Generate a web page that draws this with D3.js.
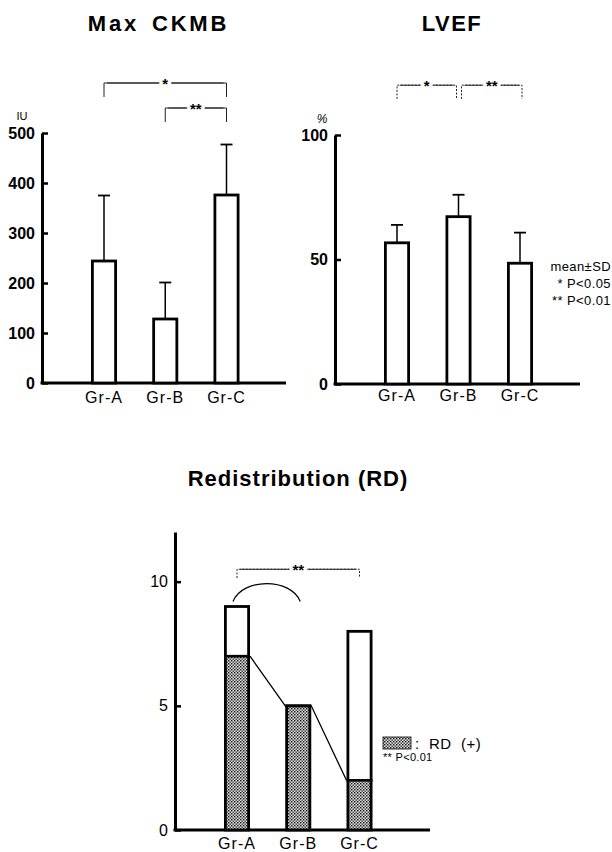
<!DOCTYPE html>
<html><head><meta charset="utf-8">
<script src="https://cdn.jsdelivr.net/npm/d3@7"></script>
<style>body{margin:0;background:#fff}svg{display:block}</style>
</head><body><svg id="c" width="612" height="852"></svg>
<script>
// ---- data ----
const categories = ["Gr-A", "Gr-B", "Gr-C"];
const ckmbMean = [244, 128, 376];
const ckmbSD = [131, 73, 101];
const ckmbTicks = [0, 100, 200, 300, 400, 500];
const lvefMean = [56.7, 67.2, 48.5];
const lvefSD = [7.2, 8.8, 12.3];
const lvefTicks = [0, 50, 100];
const rdTotal = [9, 5, 8];
const rdPositive = [7, 5, 2];
const rdTicks = [0, 5, 10];
const ckmbBrackets = [
  {from: 0, to: 2, label: "*", level: 600, drop: 572},
  {from: 1, to: 2, label: "**", level: 550, drop: 522}
];
const lvefBrackets = [
  {from: 0, to: 1, label: "*", level: 120, drop: 114.5},
  {from: 1, to: 2, label: "**", level: 120, drop: 114.5}
];
const rdBrackets = [{from: 0, to: 2, label: "**", level: 10.5, drop: 10.15}];
const legendLVEF = ["mean\u00B1SD", "* P<0.05", "** P<0.01"];

// ---- drawing ----
const FONT = "'Liberation Sans', Arial, Helvetica, sans-serif";
const svg = d3.select("#c").style("font-family", FONT);
const defs = svg.append("defs");
const pat = defs.append("pattern").attr("id", "dots").attr("patternUnits", "userSpaceOnUse")
  .attr("width", 3).attr("height", 3);
pat.append("rect").attr("width", 3).attr("height", 3).attr("fill", "#dcdcdc");
pat.append("rect").attr("x", 0).attr("y", 0).attr("width", 1.4).attr("height", 1.4).attr("fill", "#111");
pat.append("rect").attr("x", 1.5).attr("y", 1.5).attr("width", 1.4).attr("height", 1.4).attr("fill", "#333");

function panel(o) {
  const g = svg.append("g");
  const y = d3.scaleLinear().domain(o.domain).range([o.y0, o.yTop]);
  const x = d3.scalePoint().domain(categories).range([o.x0 + o.c0, o.x0 + o.c1]);
  const ax = d3.axisLeft(y).tickValues(o.ticks).tickSize(-o.tick).tickSizeOuter(0).tickPadding(o.pad);
  const ag = g.append("g").attr("transform", `translate(${o.x0},0)`).call(ax);
  ag.select(".domain").attr("stroke", "#000").attr("stroke-width", 3);
  ag.selectAll(".tick line").attr("stroke", "#000").attr("stroke-width", 2.5);
  ag.selectAll(".tick text").attr("fill", "#000").attr("font-size", o.tickFont)
    .attr("font-weight", o.tickBold ? "bold" : "normal").attr("font-family", FONT);
  g.append("line").attr("x1", o.x0 - 1.5).attr("x2", o.x1).attr("y1", o.y0).attr("y2", o.y0)
    .attr("stroke", "#000").attr("stroke-width", 3);
  g.selectAll(".cat").data(categories).join("text")
    .attr("x", d => x(d)).attr("y", o.y0 + o.labDy).attr("text-anchor", "middle")
    .attr("font-size", 16).attr("letter-spacing", 1).text(d => d);
  return {g, x, y};
}

function bracket(g, x, y, b, dashed, insetA, insetB) {
  const xa = x(categories[b.from]) + (insetA || 0), xb = x(categories[b.to]) + (insetB || 0);
  const ly = y(b.level), dy = y(b.drop);
  g.append("path").attr("d", `M${xa},${dy}V${ly}H${xb}V${dy}`).attr("fill", "none")
    .attr("stroke", "#222").attr("stroke-width", 1).attr("stroke-dasharray", dashed ? "2,1.5" : null);
  g.append("line").attr("x1", xa + 3).attr("x2", xb - 3).attr("y1", ly).attr("y2", ly)
    .attr("stroke", "#222").attr("stroke-width", 1);
  g.append("text").attr("x", (xa + xb) / 2).attr("y", ly + 6).attr("text-anchor", "middle")
    .attr("font-size", 15).attr("font-weight", "bold")
    .attr("stroke", "#fff").attr("stroke-width", 5).attr("paint-order", "stroke")
    .text(b.label);
}

function meanBars(p, means, sds) {
  const bw = 26;
  means.forEach((m, i) => {
    const cx = p.x(categories[i]);
    p.g.append("line").attr("x1", cx).attr("x2", cx).attr("y1", p.y(m)).attr("y2", p.y(m + sds[i]))
      .attr("stroke", "#000").attr("stroke-width", 1.5);
    p.g.append("line").attr("x1", cx - 6).attr("x2", cx + 6).attr("y1", p.y(m + sds[i])).attr("y2", p.y(m + sds[i]))
      .attr("stroke", "#000").attr("stroke-width", 1.8);
    p.g.append("rect").attr("x", cx - bw / 2 + 1.4).attr("y", p.y(m)).attr("width", bw - 2.8)
      .attr("height", p.y(0) - p.y(m)).attr("fill", "#fff").attr("stroke", "#000").attr("stroke-width", 2.8);
  });
}

// Panel 1: Max CKMB
const p1 = panel({x0: 42, x1: 286, y0: 383, yTop: 133, domain: [0, 500], ticks: ckmbTicks,
  c0: 62, c1: 184.5, tick: 6, pad: 7, tickFont: 16, tickBold: true, labDy: 20});
meanBars(p1, ckmbMean, ckmbSD);
ckmbBrackets.forEach(b => bracket(p1.g, p1.x, p1.y, b, false, 0, 0));
svg.append("text").attr("x", 158.5).attr("y", 31).attr("text-anchor", "middle")
  .attr("font-size", 22).attr("font-weight", "bold").attr("letter-spacing", 2.8)
  .attr("word-spacing", 4).text("Max CKMB");
svg.append("text").attr("x", 22).attr("y", 120).attr("text-anchor", "middle")
  .attr("font-size", 11).text("IU");

// Panel 2: LVEF
const p2 = panel({x0: 335, x1: 580, y0: 384, yTop: 135, domain: [0, 100], ticks: lvefTicks,
  c0: 62, c1: 185, tick: 6, pad: 7, tickFont: 16, tickBold: true, labDy: 17});
meanBars(p2, lvefMean, lvefSD);
bracket(p2.g, p2.x, p2.y, lvefBrackets[0], true, 0, -2);
bracket(p2.g, p2.x, p2.y, lvefBrackets[1], true, 3, 2);
svg.append("text").attr("x", 452).attr("y", 31).attr("text-anchor", "middle")
  .attr("font-size", 22).attr("font-weight", "bold").attr("letter-spacing", 1.5).text("LVEF");
svg.append("text").attr("x", 322).attr("y", 123).attr("text-anchor", "middle")
  .attr("font-size", 12).attr("font-style", "italic").text("%");
svg.selectAll(".lg").data(legendLVEF).join("text")
  .attr("x", 611).attr("y", (d, i) => 271 + i * 17)
  .attr("text-anchor", "end").attr("font-size", 13).attr("letter-spacing", 0.4).text(d => d);

// Panel 3: Redistribution
const p3 = panel({x0: 175, x1: 430, y0: 830, yTop: 532, domain: [0, 12], ticks: rdTicks,
  c0: 62, c1: 184.5, tick: 6, pad: 7, tickFont: 16, tickBold: false, labDy: 19});
(function () {
  const bw = 26, x = p3.x, y = p3.y, g = p3.g;
  rdTotal.forEach((t, i) => {
    const cx = x(categories[i]);
    g.append("rect").attr("x", cx - bw / 2 + 1.4).attr("y", y(rdPositive[i])).attr("width", bw - 2.8)
      .attr("height", y(0) - y(rdPositive[i])).attr("fill", "url(#dots)");
    g.append("rect").attr("x", cx - bw / 2 + 1.4).attr("y", y(t)).attr("width", bw - 2.8)
      .attr("height", y(0) - y(t)).attr("fill", "none").attr("stroke", "#000").attr("stroke-width", 2.8);
    g.append("line").attr("x1", cx - bw / 2).attr("x2", cx + bw / 2).attr("y1", y(rdPositive[i])).attr("y2", y(rdPositive[i]))
      .attr("stroke", "#000").attr("stroke-width", 2.6);
  });
  const pts = [];
  rdPositive.forEach((v, i) => {
    const cx = x(categories[i]);
    pts.push([cx - bw / 2, y(v)], [cx + bw / 2, y(v)]);
  });
  g.append("path").attr("d", d3.line()(pts.slice(1, 5))).attr("fill", "none")
    .attr("stroke", "#000").attr("stroke-width", 1.3);
  const x1 = x(categories[0]) - 4, x2 = x(categories[1]) + 2;
  const yEnd = y(9.2), yPeak = y(9.92);
  const k = (yEnd - yPeak) / 0.75, a = 9;
  g.append("path").attr("d", `M${x1},${yEnd}C${x1 + a},${yEnd - k} ${x2 - a},${yEnd - k} ${x2},${yEnd}`)
    .attr("fill", "none").attr("stroke", "#000").attr("stroke-width", 1.2);
  rdBrackets.forEach(b => bracket(g, x, y, b, true, 0, 0));
})();
svg.append("text").attr("x", 298).attr("y", 486).attr("text-anchor", "middle")
  .attr("font-size", 22).attr("font-weight", "bold").attr("letter-spacing", 1).text("Redistribution (RD)");
svg.append("rect").attr("x", 383).attr("y", 737).attr("width", 28).attr("height", 12)
  .attr("fill", "url(#dots)").attr("stroke", "#000").attr("stroke-width", 0.8);
svg.append("text").attr("x", 415).attr("y", 749).attr("font-size", 15).attr("letter-spacing", 0.5)
  .attr("xml:space", "preserve").style("white-space", "pre").text(":  RD  (+)");
svg.append("text").attr("x", 383).attr("y", 761).attr("font-size", 11).attr("letter-spacing", 0.3).text("** P<0.01");
</script></body></html>
